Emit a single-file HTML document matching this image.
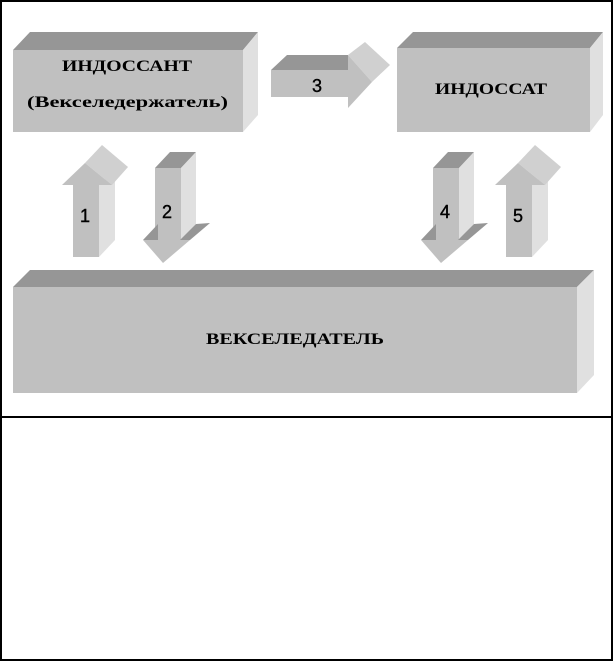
<!DOCTYPE html>
<html><head><meta charset="utf-8"><style>
html,body{margin:0;padding:0;background:#fff;width:614px;height:662px;overflow:hidden}
</style></head><body>
<svg width="614" height="662" viewBox="0 0 614 662" xmlns="http://www.w3.org/2000/svg">
<rect x="1" y="1" width="611" height="659" fill="#fff" stroke="#000" stroke-width="2"/>
<line x1="1" y1="417" x2="612" y2="417" stroke="#000" stroke-width="2"/>
<g font-family="'Liberation Serif','DejaVu Serif',serif" font-weight="bold" fill="#000">
<!-- Box 1 -->
<polygon points="13,50 30,32 258,32 243,50" fill="#969696"/>
<polygon points="243,50 258,32 258,115 243,132" fill="#e0e0e0"/>
<rect x="13" y="50" width="230" height="82" fill="#c0c0c0"/>
<text x="62" y="71" font-size="16" textLength="130" lengthAdjust="spacingAndGlyphs">ИНДОССАНТ</text>
<text x="27" y="107" font-size="16" textLength="201" lengthAdjust="spacingAndGlyphs">(Векселедержатель)</text>
<!-- Box 2 -->
<polygon points="397,48 413,32 603,32 590,48" fill="#969696"/>
<polygon points="590,48 603,32 603,115 590,132" fill="#e0e0e0"/>
<rect x="397" y="48" width="193" height="84" fill="#c0c0c0"/>
<text x="435" y="94" font-size="16" textLength="112" lengthAdjust="spacingAndGlyphs">ИНДОССАТ</text>
<!-- Bottom box -->
<polygon points="13,287 30,270 594,270 577,287" fill="#969696"/>
<polygon points="577,287 594,270 594,375 577,393" fill="#e0e0e0"/>
<rect x="13" y="287" width="564" height="106" fill="#c0c0c0"/>
<text x="206" y="344" font-size="16" textLength="178" lengthAdjust="spacingAndGlyphs">ВЕКСЕЛЕДАТЕЛЬ</text>
</g>
<!-- Arrow 1 (up) -->
<g>
<polygon points="99,185 115,170 115,240 99,257" fill="#e0e0e0"/>
<rect x="73" y="185" width="26" height="72" fill="#c0c0c0"/>
<polygon points="85,163 102,145 128,167 112,185" fill="#d0d0d0"/>
<polygon points="62,185 85,163 112,185" fill="#c0c0c0"/>
</g>
<!-- Arrow 5 -->
<g transform="translate(433,0)">
<polygon points="99,185 115,170 115,240 99,257" fill="#e0e0e0"/>
<rect x="73" y="185" width="26" height="72" fill="#c0c0c0"/>
<polygon points="85,163 102,145 128,167 112,185" fill="#d0d0d0"/>
<polygon points="62,185 85,163 112,185" fill="#c0c0c0"/>
</g>
<!-- Arrow 2 (down) -->
<g>
<polygon points="155,168 170,152 196,152 181,168" fill="#969696"/>
<polygon points="181,168 196,152 196,224 181,240" fill="#e0e0e0"/>
<rect x="155" y="168" width="26" height="72" fill="#c0c0c0"/>
<polygon points="143,240 158,224 158,240" fill="#969696"/>
<polygon points="180,240 196,224 210,223 190,240" fill="#969696"/>
<polygon points="143,240 190,240 163,263" fill="#c0c0c0"/>
</g>
<!-- Arrow 4 -->
<g transform="translate(278,0)">
<polygon points="155,168 170,152 196,152 181,168" fill="#969696"/>
<polygon points="181,168 196,152 196,224 181,240" fill="#e0e0e0"/>
<rect x="155" y="168" width="26" height="72" fill="#c0c0c0"/>
<polygon points="143,240 158,224 158,240" fill="#969696"/>
<polygon points="180,240 196,224 210,223 190,240" fill="#969696"/>
<polygon points="143,240 190,240 163,263" fill="#c0c0c0"/>
</g>
<!-- Arrow 3 (right) -->
<g>
<polygon points="271,70 287,55 348,55 348,70" fill="#969696"/>
<rect x="271" y="70" width="77" height="27" fill="#c0c0c0"/>
<polygon points="348,55 365,42 390,65 372,82" fill="#d0d0d0"/>
<polygon points="348,55 372,82 348,108" fill="#c0c0c0"/>
</g>
<g font-family="'Liberation Sans','DejaVu Sans',sans-serif" font-size="18" text-anchor="middle" fill="#000" stroke="#000" stroke-width="0.4">
<text x="85" y="222">1</text>
<text x="167" y="218">2</text>
<text x="317" y="92">3</text>
<text x="445" y="218">4</text>
<text x="518" y="222">5</text>
</g>
</svg>
</body></html>
